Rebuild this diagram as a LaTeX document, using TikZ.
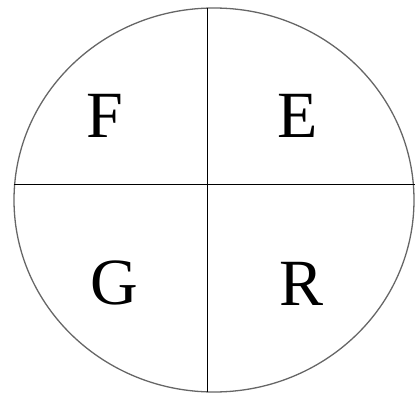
\documentclass[tikz,border=0pt]{standalone}
\usepackage{fontspec}
\setmainfont{Liberation Serif}
\begin{document}
\begin{tikzpicture}[x=1pt,y=1pt,
  letter/.style={inner sep=0pt,font=\fontsize{66}{66}\selectfont},
  rim/.style={draw=black!60,line width=1.3pt},
  divider/.style={draw=black,line width=1pt}]
\useasboundingbox (0,0) rectangle (415,392);
\draw[rim] (214,192) ellipse [x radius=200, y radius=192];
\coordinate (top) at (207,384);
\coordinate (bot) at (207,0);
\coordinate (lft) at (14,208);
\coordinate (rgt) at (415,208);
\draw[divider] (top) -- (bot);
\draw[divider] (lft) -- (rgt);
\node[letter] (F) at (105,276) {F};
\node[letter] (E) at (298,276) {E};
\node[letter] (G) at (114,109) {G};
\node[letter] (R) at (302,108) {R};
\end{tikzpicture}
\end{document}
